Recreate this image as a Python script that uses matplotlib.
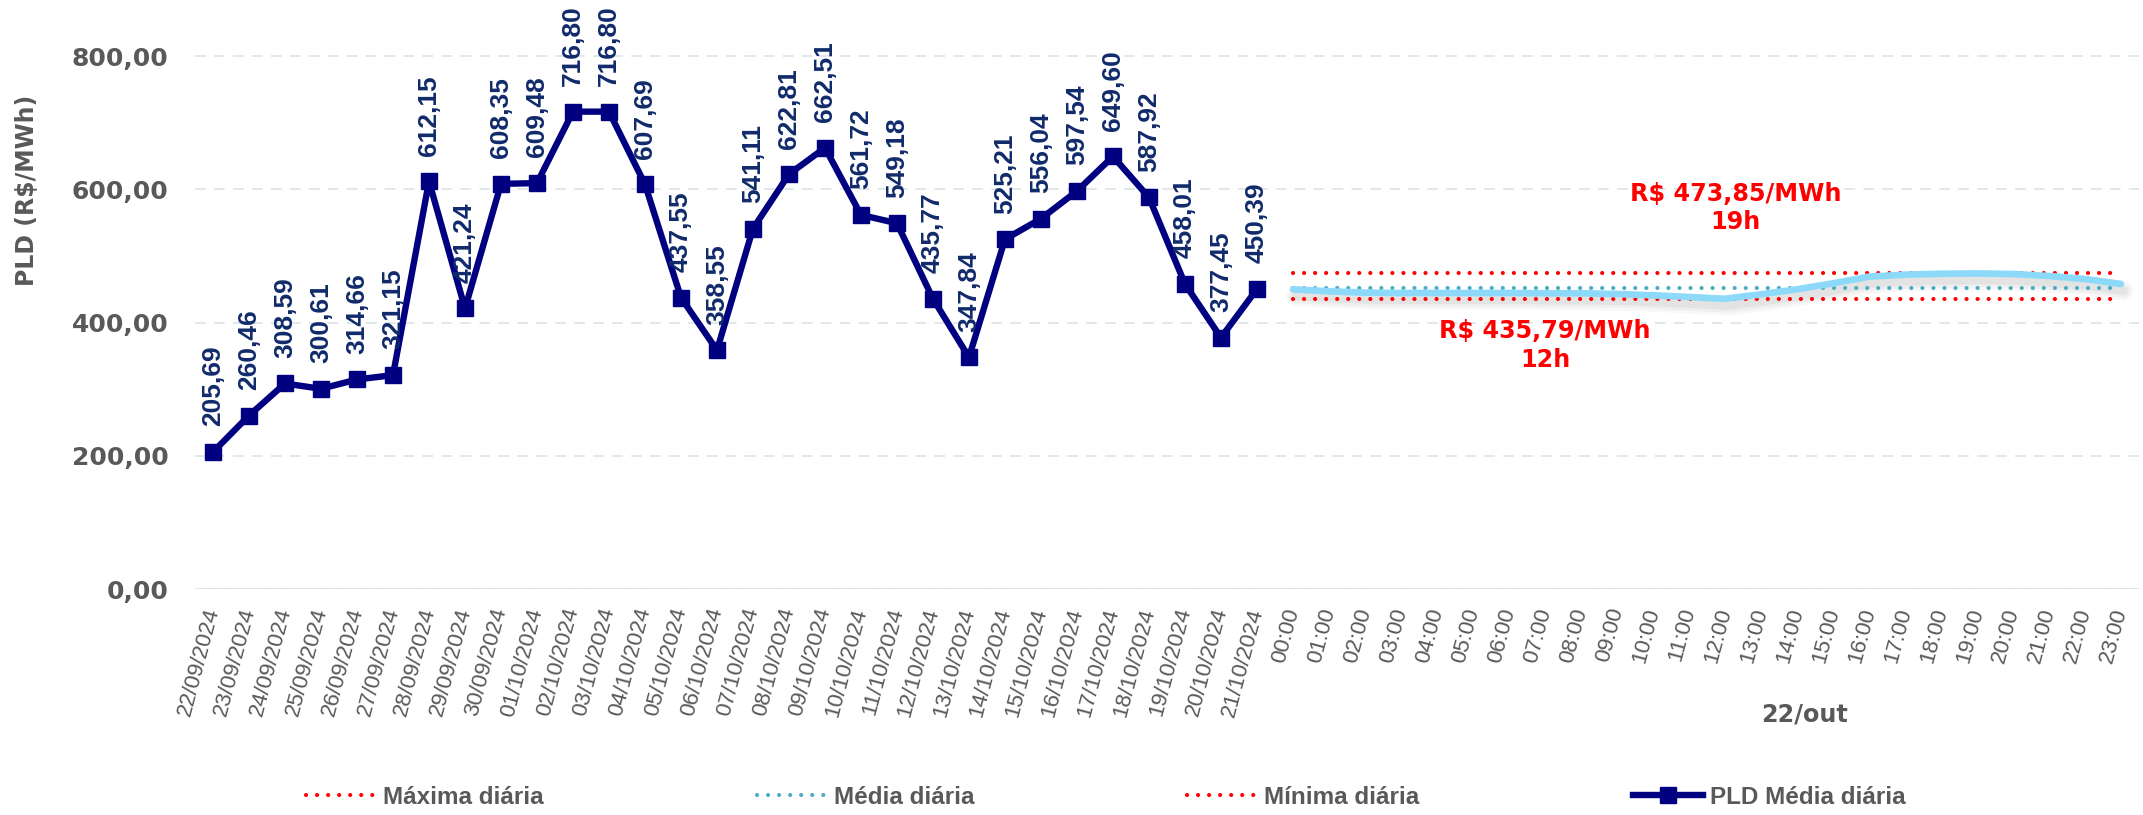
import matplotlib
matplotlib.use("Agg")
import matplotlib.pyplot as plt
import matplotlib.transforms as mtransforms
import numpy as np

# daily PLD (R$/MWh), 22/09 -> 21/10
dates = ["22/09/2024", "23/09/2024", "24/09/2024", "25/09/2024", "26/09/2024",
         "27/09/2024", "28/09/2024", "29/09/2024", "30/09/2024", "01/10/2024",
         "02/10/2024", "03/10/2024", "04/10/2024", "05/10/2024", "06/10/2024",
         "07/10/2024", "08/10/2024", "09/10/2024", "10/10/2024", "11/10/2024",
         "12/10/2024", "13/10/2024", "14/10/2024", "15/10/2024", "16/10/2024",
         "17/10/2024", "18/10/2024", "19/10/2024", "20/10/2024", "21/10/2024"]
pld_daily = [205.69, 260.46, 308.59, 300.61, 314.66, 321.15, 612.15, 421.24,
             608.35, 609.48, 716.80, 716.80, 607.69, 437.55, 358.55, 541.11,
             622.81, 662.51, 561.72, 549.18, 435.77, 347.84, 525.21, 556.04,
             597.54, 649.60, 587.92, 458.01, 377.45, 450.39]

# hourly PLD for 22/out
hours = ["00:00", "01:00", "02:00", "03:00", "04:00", "05:00", "06:00", "07:00",
         "08:00", "09:00", "10:00", "11:00", "12:00", "13:00", "14:00", "15:00",
         "16:00", "17:00", "18:00", "19:00", "20:00", "21:00", "22:00", "23:00"]
pld_hourly = [450.0, 447.0, 445.0, 444.5, 444.5, 444.5, 444.5, 444.0,
              444.0, 443.0, 441.0, 438.5, 435.79, 442.5, 450.0, 459.0,
              469.0, 472.0, 473.4, 473.85, 473.0, 470.0, 465.5, 458.0]
max_day = 473.85
mean_day = 451.5
min_day = 435.79
y_ticks = [0, 200, 400, 600, 800]

NAVY = "#000080"
LABEL_BLUE = "#102A6B"
GRAY = "#595959"
RED = "#FF0000"
TEAL = "#4BACC6"
LIGHT_BLUE = "#8DD9F9"
ARIAL = "Liberation Sans"
WIDE = "DejaVu Sans"


def br(v):
    return f"{v:.2f}".replace(".", ",")


fig = plt.figure(figsize=(21.43, 8.15), dpi=100)
ax = fig.add_axes([0.0910, 0.2773, 0.9071, 0.7109])

n_days = len(pld_daily)
x_days = np.arange(n_days)
x_hours = n_days + np.arange(len(hours))

# soft shadow under the hourly curve
for lw, a in [(14, 0.04), (10, 0.06), (6, 0.08)]:
    shadow_tr = mtransforms.offset_copy(ax.transData, fig=fig, x=2, y=-5, units="points")
    ax.plot(x_hours, pld_hourly, color="#606060", lw=lw, alpha=a,
            transform=shadow_tr, zorder=1, solid_capstyle="round")

dots = (0, (0.01, 2.64))
l_max, = ax.plot(x_hours, [max_day] * len(hours), color=RED, lw=3, ls=dots,
                 dash_capstyle="round", zorder=2)
l_mean, = ax.plot(x_hours, [mean_day] * len(hours), color=TEAL, lw=3, ls=dots,
                  dash_capstyle="round", zorder=2)
l_min, = ax.plot(x_hours, [min_day] * len(hours), color=RED, lw=3, ls=dots,
                 dash_capstyle="round", zorder=2)
ax.plot(x_hours, pld_hourly, color=LIGHT_BLUE, lw=4.8, zorder=3,
        solid_capstyle="round", solid_joinstyle="round")

l_daily, = ax.plot(x_days, pld_daily, color=NAVY, lw=4.6, marker="s", ms=12,
                   zorder=4)

for x, v in zip(x_days, pld_daily):
    ax.annotate(br(v), (x, v), xytext=(0, 18.5), textcoords="offset points",
                rotation=90, ha="center", va="bottom", fontsize=19,
                fontweight="bold", color=LABEL_BLUE, family=ARIAL,
                zorder=5, annotation_clip=False)

# max / min callouts
h_max = int(np.argmax(pld_hourly))
h_min = int(np.argmin(pld_hourly))
ax.text(42.3, 572, f"R$ {br(max_day)}/MWh\n{h_max}h", ha="center", va="center",
        color=RED, fontsize=17.2, fontweight="bold", family=WIDE, linespacing=1.25)
ax.text(37.0, 366, f"R$ {br(min_day)}/MWh\n{h_min}h", ha="center", va="center",
        color=RED, fontsize=17.2, fontweight="bold", family=WIDE, linespacing=1.25)

# axes styling
ax.set_xlim(-0.5, n_days + len(hours) - 0.5)
ax.set_ylim(0, 870)
for s in ax.spines.values():
    s.set_visible(False)
ax.grid(axis="y", color="#DDE6E9", lw=1.3, ls=(0, (6, 4.5)), zorder=0)
ax.axhline(0, color="#D9D9D9", lw=2, zorder=1.5)

ax.set_yticks(y_ticks)
ax.set_yticklabels([br(v) for v in y_ticks], fontweight="bold", family=WIDE,
                   fontsize=18, color=GRAY)
ax.tick_params(axis="y", length=0, pad=19)

ax.set_xticks(np.arange(n_days + len(hours)))
ax.set_xticklabels(dates + hours, rotation=75, ha="right", va="center",
                   rotation_mode="anchor", fontsize=16, color=GRAY, family=ARIAL)
ax.tick_params(axis="x", length=0, pad=14)

fig.text(27 / 2143, 1 - 190 / 815, "PLD (R$/MWh)", rotation=90, ha="center",
         va="center", fontsize=17, fontweight="bold", color=GRAY, family=WIDE)

day_tr = mtransforms.blended_transform_factory(ax.transData, fig.transFigure)
ax.text(44.2, 1 - 714 / 815, "22/out", transform=day_tr, ha="center", va="center",
        fontsize=17.2, fontweight="bold", color=GRAY, family=WIDE)

fig.legend([l_max, l_mean, l_min, l_daily],
           ["Máxima diária", "Média diária", "Mínima diária", "PLD Média diária"],
           loc="center", bbox_to_anchor=(0.5159, 0.022), ncol=4, frameon=False,
           handlelength=2.88, handletextpad=0.29, columnspacing=8.77,
           prop=dict(family=ARIAL, weight="bold", size=17.5), labelcolor=GRAY)

fig.savefig("out.png", dpi=100)
